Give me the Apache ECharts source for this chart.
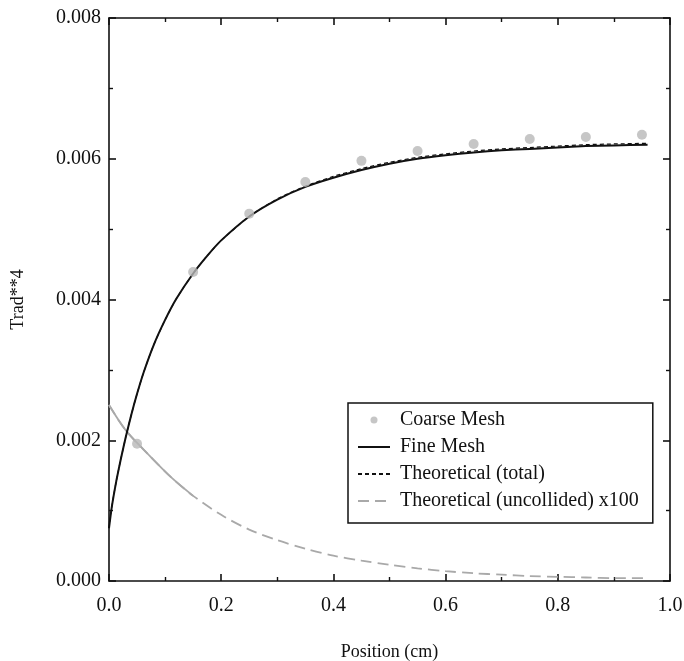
<!DOCTYPE html>
<html>
<head>
<meta charset="utf-8">
<script src="https://cdn.jsdelivr.net/npm/echarts@6/dist/echarts.min.js"></script>
<style>
  html, body { margin: 0; padding: 0; background: #fff; }
  #chart { width: 684px; height: 661px; }
</style>
</head>
<body>
<div id="chart"></div>
<script>
// Radiation temperature (Trad^4) across the slab
const coarseX = [0.05, 0.15, 0.25, 0.35, 0.45, 0.55, 0.65, 0.75, 0.85, 0.95];
const coarseY = [0.00195, 0.00439, 0.00522, 0.00567, 0.00597, 0.00611, 0.00621, 0.00628, 0.00631, 0.00634];

const fineX = [0, 0.004, 0.008, 0.013, 0.021, 0.030, 0.040, 0.050, 0.062, 0.080, 0.100, 0.120, 0.150, 0.175, 0.200,
               0.250, 0.300, 0.350, 0.400, 0.450, 0.500, 0.550, 0.600, 0.650, 0.700, 0.750, 0.800, 0.850, 0.900, 0.960];
const fineY = [0.00075, 0.00100, 0.00120, 0.00142, 0.00173, 0.00205, 0.00237, 0.00266, 0.00297, 0.00336, 0.00371, 0.00401, 0.00437, 0.00462, 0.00484,
               0.00518, 0.00542, 0.00560, 0.00573, 0.00584, 0.00593, 0.00600, 0.00605, 0.00609, 0.00612, 0.00614, 0.00616, 0.00618, 0.00619, 0.00620];

const totalX = fineX;
const totalY = [0.00075, 0.00100, 0.00120, 0.00142, 0.00173, 0.00205, 0.00237, 0.00266, 0.00297, 0.00336, 0.00371, 0.00401, 0.00437, 0.00462, 0.00484,
                0.00518, 0.00543, 0.00561, 0.00575, 0.00586, 0.00595, 0.00602, 0.00607, 0.00611, 0.00614, 0.00616, 0.00618, 0.00620, 0.00621, 0.00622];

const uncollX = [0, 0.03, 0.07, 0.11, 0.15, 0.20, 0.25, 0.30, 0.35, 0.40, 0.45, 0.50, 0.55, 0.60, 0.65, 0.70, 0.75, 0.80, 0.85, 0.90, 0.96];
const uncollY = [0.00250, 0.00214, 0.00180, 0.00148, 0.00121, 0.00094, 0.00073, 0.00058, 0.00046, 0.00036, 0.00029, 0.00023, 0.00018,
                 0.00014, 0.00011, 0.00009, 0.00007, 0.00006, 0.00005, 0.00004, 0.00004];

const xTicks = [0.0, 0.2, 0.4, 0.6, 0.8, 1.0];
const yTicks = [0.000, 0.002, 0.004, 0.006, 0.008];

const zip = (xs, ys) => xs.map((x, i) => [x, ys[i]]);
const FONT = "'Liberation Serif', 'Times New Roman', serif";
const INK = '#111';

const tickCommon = {
  axisLine: { show: true, onZero: false, lineStyle: { color: INK, width: 1.6 } },
  axisTick: { show: true, inside: true, length: 7, lineStyle: { color: INK, width: 1.6 } },
  minorTick: { show: true, splitNumber: 2, length: 4, lineStyle: { color: INK, width: 1.4 } },
  splitLine: { show: false },
  minorSplitLine: { show: false }
};

// line entries in the legend show only their stroke, no marker
const noMarker = { opacity: 0 };

const chart = echarts.init(document.getElementById('chart'), null, { renderer: 'canvas' });

chart.setOption({
  backgroundColor: '#fff',
  animation: false,
  grid: { left: 109, right: 14, top: 18, bottom: 80, containLabel: false, outerBoundsMode: 'none' },
  xAxis: [
    Object.assign({
      type: 'value', position: 'bottom', min: xTicks[0], max: xTicks[xTicks.length - 1], interval: 0.2,
      name: 'Position (cm)', nameLocation: 'middle', nameGap: 62,
      nameTextStyle: { fontFamily: FONT, fontSize: 18, color: INK },
      axisLabel: { fontFamily: FONT, fontSize: 20, color: INK, margin: 15, formatter: v => v.toFixed(1) }
    }, tickCommon),
    Object.assign({
      type: 'value', position: 'top', min: xTicks[0], max: xTicks[xTicks.length - 1], interval: 0.2,
      axisLabel: { show: false }
    }, tickCommon)
  ],
  yAxis: [
    Object.assign({
      type: 'value', position: 'left', min: yTicks[0], max: yTicks[yTicks.length - 1], interval: 0.002,
      name: 'Trad**4', nameLocation: 'middle', nameGap: 82, nameRotate: 90,
      nameTextStyle: { fontFamily: FONT, fontSize: 18, color: INK },
      axisLabel: { fontFamily: FONT, fontSize: 20, color: INK, margin: 8, formatter: v => v.toFixed(3) }
    }, tickCommon),
    Object.assign({
      type: 'value', position: 'right', min: yTicks[0], max: yTicks[yTicks.length - 1], interval: 0.002,
      axisLabel: { show: false }
    }, tickCommon)
  ],
  legend: {
    orient: 'vertical',
    left: 348, top: 403,
    padding: [7, 14, 12, 9],
    borderColor: INK, borderWidth: 1.5,
    backgroundColor: '#fff',
    itemWidth: 32, itemHeight: 7, itemGap: 7,
    textStyle: { fontFamily: FONT, fontSize: 20, color: INK, lineHeight: 20, padding: [0, 0, 0, 5] },
    data: [
      { name: 'Coarse Mesh', icon: 'circle' },
      { name: 'Fine Mesh', itemStyle: noMarker },
      { name: 'Theoretical (total)', itemStyle: noMarker },
      { name: 'Theoretical (uncollided) x100', itemStyle: noMarker }
    ]
  },
  series: [
    {
      name: 'Theoretical (uncollided) x100', type: 'line', data: zip(uncollX, uncollY),
      symbol: 'none', smooth: 0.3, z: 2,
      lineStyle: { color: '#a9a9a9', width: 1.8, type: [11, 6] },
      itemStyle: { color: '#a9a9a9' }
    },
    {
      // continuous stretch of the uncollided curve near the boundary
      name: 'uncollided-near', type: 'line', data: zip(uncollX.slice(0, 5), uncollY.slice(0, 5)),
      symbol: 'none', smooth: 0.3, z: 2,
      lineStyle: { color: '#a9a9a9', width: 1.8 },
      itemStyle: { color: '#a9a9a9' }
    },
    {
      name: 'Fine Mesh', type: 'line', data: zip(fineX, fineY),
      symbol: 'none', smooth: 0.2, z: 3,
      lineStyle: { color: INK, width: 2 },
      itemStyle: { color: INK }
    },
    {
      name: 'Theoretical (total)', type: 'line', data: zip(totalX, totalY),
      symbol: 'none', smooth: 0.2, z: 4,
      lineStyle: { color: INK, width: 1.2, type: [4, 3] },
      itemStyle: { color: INK }
    },
    {
      name: 'Coarse Mesh', type: 'scatter', data: zip(coarseX, coarseY),
      symbol: 'circle', symbolSize: 10, z: 5,
      itemStyle: { color: '#b8b8b8' }
    }
  ]
});
</script>
</body>
</html>
